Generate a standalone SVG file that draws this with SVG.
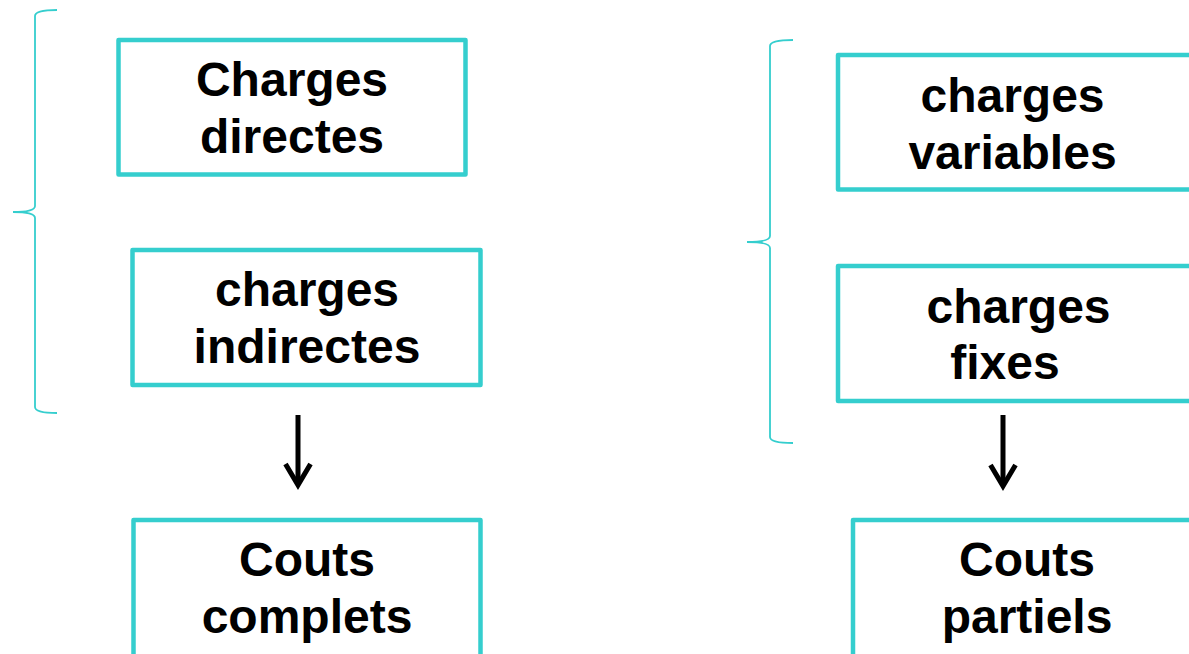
<svg xmlns="http://www.w3.org/2000/svg" width="1189" height="654" viewBox="0 0 1189 654">
<style>
.box{fill:#fff;stroke:#35CECE;stroke-width:4.5;stroke-linejoin:round}
.t{font-family:"Liberation Sans",Arial,sans-serif;font-weight:bold;font-size:48px;fill:#000;text-anchor:middle}
.brace{fill:none;stroke:#35CECE;stroke-width:1.8}
.arrow{fill:none;stroke:#000;stroke-width:5}
</style>
<defs>
<marker id="arr" markerUnits="userSpaceOnUse" viewBox="0 0 28 30" markerWidth="28" markerHeight="30" refX="23" refY="15" orient="auto">
<path d="M2,2.5 L23,15 L2,27.5" fill="none" stroke="#000" stroke-width="5"/>
</marker>
</defs>
<rect width="1189" height="654" fill="#fff"/>
<g id="brace-left"><path class="brace" d="M57,10 Q35,10 35,16 L35,206 Q35,212 13,212 Q35,212 35,218 L35,407 Q35,413 57,413"/></g>
<g id="brace-right"><path class="brace" d="M793,40 Q770,40 770,46 L770,236 Q770,242 747,242 Q770,242 770,248 L770,437 Q770,443 793,443"/></g>
<g id="charges-directes"><rect class="box" x="118.5" y="40" width="347" height="134.5"/><text class="t" x="292" y="96">Charges</text><text class="t" x="292" y="153">directes</text></g>
<g id="charges-indirectes"><rect class="box" x="132.5" y="250" width="348" height="135"/><text class="t" x="307" y="306">charges</text><text class="t" x="307" y="363">indirectes</text></g>
<g id="couts-complets"><rect class="box" x="133.5" y="520" width="347" height="150"/><text class="t" x="307" y="576">Couts</text><text class="t" x="307" y="633">complets</text></g>
<g id="charges-variables"><rect class="box" x="838" y="55" width="360" height="134.5"/><text class="t" x="1012.5" y="112">charges</text><text class="t" x="1012.5" y="169">variables</text></g>
<g id="charges-fixes"><rect class="box" x="838" y="266" width="360" height="135"/><text class="t" x="1018.5" y="323">charges</text><text class="t" x="1005" y="379">fixes</text></g>
<g id="couts-partiels"><rect class="box" x="853" y="520" width="360" height="150"/><text class="t" x="1027" y="576">Couts</text><text class="t" x="1027" y="633">partiels</text></g>
<g id="connectors">
<path class="arrow" d="M298,415 L298,485" marker-end="url(#arr)"/>
<path class="arrow" d="M1003,415 L1003,486" marker-end="url(#arr)"/>
</g>
</svg>
